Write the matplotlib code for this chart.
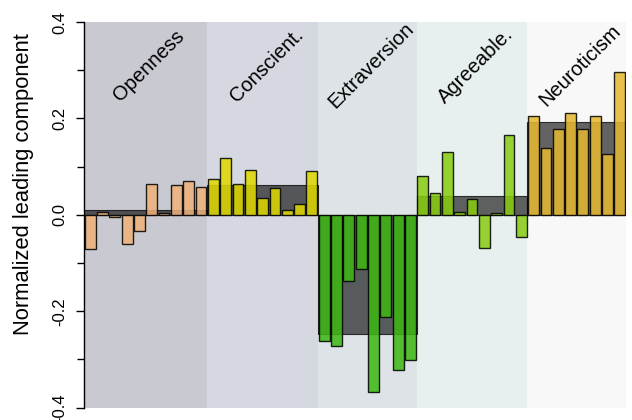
import matplotlib
matplotlib.use("Agg")
import matplotlib.pyplot as plt
import numpy as np

plt.rcParams['font.family'] = ['Liberation Sans', 'DejaVu Sans']
plt.rcParams['axes.unicode_minus'] = False

# Trait groups and the facet loadings within each
traits = ["Openness", "Conscient.", "Extraversion", "Agreeable.", "Neuroticism"]
openness = [-0.071, 0.006, -0.004, -0.061, -0.033, 0.065, 0.004, 0.061, 0.070, 0.057]
conscient = [0.074, 0.118, 0.064, 0.094, 0.034, 0.055, 0.011, 0.023, 0.091]
extraversion = [-0.262, -0.273, -0.137, -0.112, -0.367, -0.211, -0.322, -0.301]
agreeable = [0.081, 0.046, 0.130, 0.005, 0.032, -0.069, 0.004, 0.166, -0.046]
neuroticism = [0.206, 0.139, 0.179, 0.211, 0.178, 0.204, 0.127, 0.296]

groups = [openness, conscient, extraversion, agreeable, neuroticism]
bar_colors = ["#f0b27a", "#e0da00", "#3cb812", "#88cc10", "#e6b830"]
bg_colors = ["#c9c9d2", "#d5d8e0", "#dde3e6", "#e8f0ef", "#f8f8f8"]

fig = plt.figure(figsize=(6.32, 4.20), dpi=100)
ax = fig.add_axes([84 / 632, 12.3 / 420, 542 / 632, 385.7 / 420])

start = 0
for name, vals, bc, bg in zip(traits, groups, bar_colors, bg_colors):
    n = len(vals)
    x = np.arange(start, start + n)
    left, right = start - 0.5, start + n - 0.5
    # shaded band for the trait
    ax.axvspan(left, right, color=bg, zorder=0, lw=0)
    # group mean as a dark block behind the facets
    ax.bar((left + right) / 2, np.mean(vals), width=n, color=(0, 0, 0, 0.6),
           edgecolor=(0, 0, 0, 0.75), lw=0.8, zorder=1)
    ax.bar(x, vals, width=0.88, color=bc, alpha=0.86, edgecolor="black",
           linewidth=1.0, zorder=2)
    ax.text((left + right) / 2 + 0.3, 0.31, name, rotation=45,
            ha="center", va="center", fontsize=14.5, zorder=3)
    start += n

ax.set_xlim(-0.5, start - 0.5)
ax.set_ylim(-0.4, 0.4)
ax.set_yticks([-0.4, -0.2, 0.0, 0.2, 0.4])
ax.set_yticklabels(["-0.4", "-0.2", "0.0", "0.2", "0.4"], rotation=90,
                   va="center", fontsize=12)
ax.set_yticks(np.arange(-0.3, 0.31, 0.2), minor=True)
ax.tick_params(axis="y", which="major", length=6, width=1, pad=6)
ax.tick_params(axis="y", which="minor", length=5, width=1)
ax.set_xticks([])
for s in ["top", "right", "bottom"]:
    ax.spines[s].set_visible(False)
ax.spines["left"].set_linewidth(1)
ax.set_ylabel("Normalized leading component", fontsize=15.8, va="center")
ax.yaxis.set_label_coords(-0.1116, 0.579)

fig.savefig("out.png", dpi=100)
